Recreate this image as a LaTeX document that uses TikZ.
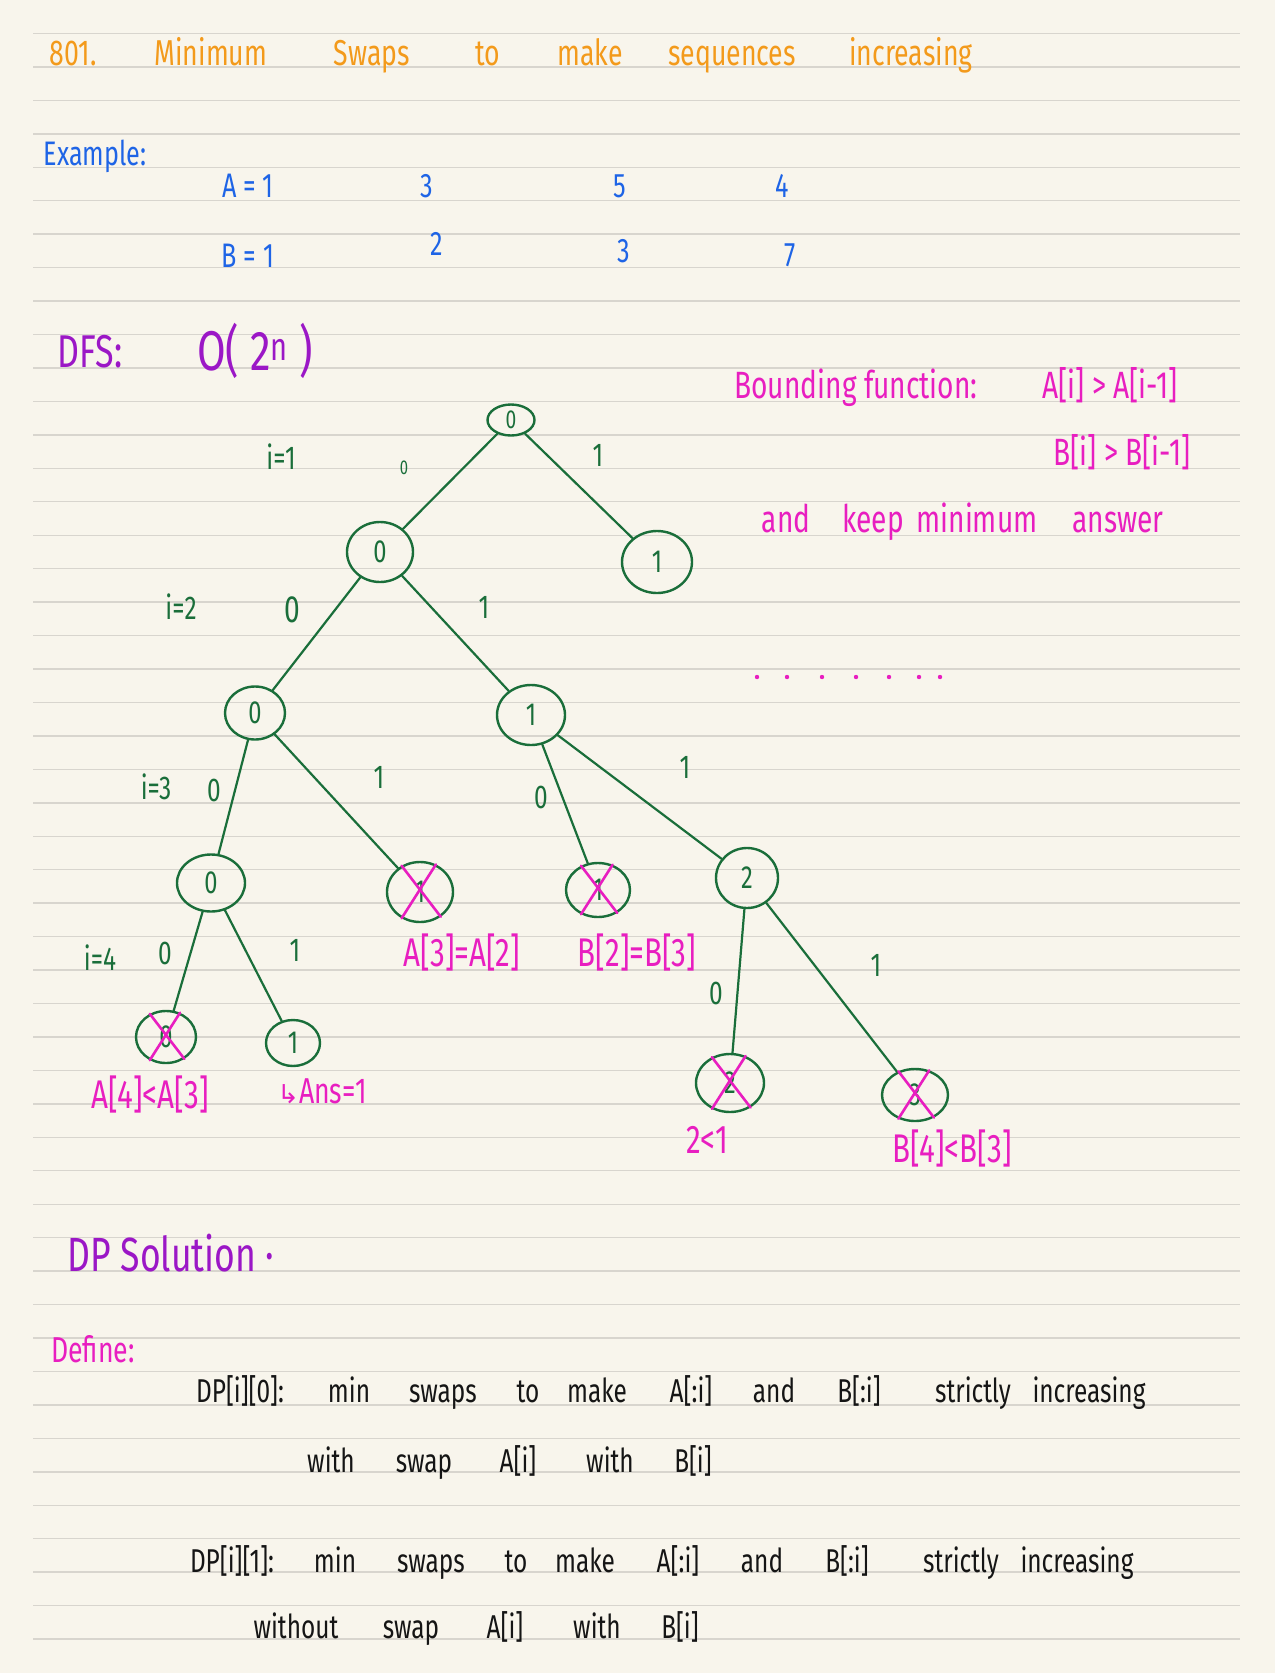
\documentclass[tikz,border=0pt]{standalone}
\usepackage{fontspec}
\setmainfont{Fira Sans}[FakeStretch=0.74]
\newfontfamily\symfont{DejaVu Sans}
\usetikzlibrary{shapes.geometric}

\definecolor{paper}{HTML}{F8F5EC}
\definecolor{ruling}{HTML}{D8D5CE}
\definecolor{titleorange}{HTML}{F39A1B}
\definecolor{exblue}{HTML}{1E64E6}
\definecolor{dfspurple}{HTML}{9B17C6}
\definecolor{treegreen}{HTML}{1A6E3A}
\definecolor{notepink}{HTML}{E81EC0}
\definecolor{ink}{HTML}{151515}

\newcommand{\fs}[1]{\fontsize{#1}{#1}\selectfont}

\tikzset{
  ruled/.style={draw=ruling, line width=1.4pt},
  titleword/.style={text=titleorange, anchor=base, font=\fs{36}},
  exword/.style={text=exblue, anchor=base, font=\fs{34}},
  dfsword/.style={text=dfspurple, anchor=base},
  tnode/.style={ellipse, draw=treegreen, line width=2.4pt, text=treegreen,
    inner sep=0pt, minimum width=64pt, minimum height=56pt, font=\fs{32}},
  branch/.style={draw=treegreen, line width=2.2pt, line cap=round},
  elabel/.style={text=treegreen, font=\fs{33}},
  cutmark/.style={draw=notepink, line width=2.6pt, line cap=round},
  note/.style={text=notepink, anchor=base, font=\fs{40}},
  defword/.style={text=ink, anchor=base, font=\fs{33}}
}

\begin{document}
\begin{tikzpicture}[x=1pt, y=-1pt]
\useasboundingbox (0,0) rectangle (1275,1673);
\fill[paper] (0,0) rectangle (1275,1673);

% notebook ruling
\foreach \k in {1,...,49}
  \draw[ruled] (33,{33.45*\k}) -- (1240,{33.45*\k});

% title
\foreach \w/\x [count=\i] in {801./73, Minimum/211, Swaps/372, to/488, make/590, sequences/732, increasing/911}
  \node[titleword] (title\i) at (\x,65) {\w};

% example
\node[exword] (example) at (95,165) {Example:};
\foreach \w/\x/\y [count=\i] in {A = 1/248/197, 3/427/197, 5/620/197, 4/782/197,
                                B = 1/248/267, 2/437/255, 3/624/262, 7/790/266}
  \node[exword] (ex\i) at (\x,\y) {\w};

% DFS
\node[dfsword, font=\fs{46}] (dfs) at (90,367) {DFS:};
\node[dfsword, font=\fs{56}] (bigo) at (255,370) {O( 2\textsuperscript{n} )};

% bounding function
\node[note, font=\fs{38}] (bound) at (856,398) {Bounding function:};
\node[note, font=\fs{38}] (bounda) at (1110,398) {A[i] > A[i-1]};
\node[note, font=\fs{38}] (boundb) at (1122,465) {B[i] > B[i-1]};
\foreach \w/\x [count=\i] in {and/786, keep/873, minimum/977, answer/1118}
  \node[note, font=\fs{38}] (keep\i) at (\x,532) {\w};
\foreach \x in {757,787,822,856,889,919,940}
  \fill[notepink] (\x,677) circle (2.2pt);

% tree
\node[tnode, minimum width=47pt, minimum height=31pt, font=\fs{26}] (r) at (511,420) {0};
\node[tnode, minimum width=66pt, minimum height=60pt] (a) at (380,552) {0};
\node[tnode, minimum width=70pt, minimum height=62pt] (b) at (657,562) {1};
\node[tnode, minimum width=60pt, minimum height=53pt] (c) at (255,713) {0};
\node[tnode, minimum width=68pt, minimum height=60pt] (d) at (531,715) {1};
\node[tnode, minimum width=68pt, minimum height=57pt] (e) at (211,883) {0};
\node[tnode, minimum width=66pt, minimum height=60pt] (f) at (420,892) {1};
\node[tnode, minimum width=64pt, minimum height=54pt] (g) at (598,890) {1};
\node[tnode, minimum width=62pt, minimum height=60pt] (h) at (747,878) {2};
\node[tnode, minimum width=60pt, minimum height=52pt] (k) at (166,1037) {0};
\node[tnode, minimum width=54pt, minimum height=46pt] (m) at (293,1043) {1};
\node[tnode, minimum width=68pt, minimum height=58pt] (n) at (730,1083) {2};
\node[tnode, minimum width=66pt, minimum height=52pt] (p) at (915,1095) {3};

\draw[branch] (r) -- (a);
\draw[branch] (r) -- (b);
\draw[branch] (a) -- (c);
\draw[branch] (a) -- (d);
\draw[branch] (c) -- (e);
\draw[branch] (c) -- (f);
\draw[branch] (d) -- (g);
\draw[branch] (d) -- (h);
\draw[branch] (e) -- (k);
\draw[branch] (e) -- (m);
\draw[branch] (h) -- (n);
\draw[branch] (h) -- (p);

% pruned branches
\foreach \t in {f,g,k,n,p}
  \draw[cutmark] (\t.125) -- (\t.-50) (\t.60) -- (\t.-125);

% levels and choices
\node[elabel] (lv1) at (281,457) {i=1};
\node[elabel] (lv2) at (181,607) {i=2};
\node[elabel] (lv3) at (156,787) {i=3};
\node[elabel] (lv4) at (100,958) {i=4};
\node[elabel, font=\fs{20}] (ra) at (404,468) {0};
\node[elabel] (rb) at (598,455) {1};
\node[elabel, font=\fs{38}] (ac) at (292,610) {0};
\node[elabel] (ad) at (484,607) {1};
\node[elabel] (ce) at (214,790) {0};
\node[elabel] (cf) at (379,777) {1};
\node[elabel] (dg) at (541,797) {0};
\node[elabel] (dh) at (685,767) {1};
\node[elabel] (ek) at (165,953) {0};
\node[elabel] (em) at (295,950) {1};
\node[elabel] (hn) at (716,993) {0};
\node[elabel] (hp) at (876,965) {1};

% reasons
\node[note] (whyf) at (462,966) {A[3]=A[2]};
\node[note] (whyg) at (637,966) {B[2]=B[3]};
\node[note] (whyk) at (150,1108) {A[4]<A[3]};
\node[note, font=\fs{36}] (ans) at (322,1103) {{\symfont\fs{26}↳}Ans=1};
\node[note] (whyn) at (707,1153) {2<1};
\node[note] (whyp) at (952,1162) {B[4]<B[3]};

% DP solution
\node[dfsword, font=\fs{48}] (dp) at (171,1271) {DP Solution ·};
\node[note, font=\fs{36}] (define) at (93,1362) {Define:};
\foreach \w/\x [count=\i] in {{DP[i][0]:}/240, min/349, swaps/443, to/528, make/597, {A[:i]}/691,
    and/774, {B[:i]}/859, strictly/973, increasing/1089}
  \node[defword] (dpa\i) at (\x,1402) {\w};
\foreach \w/\x [count=\i] in {with/331, swap/424, {A[i]}/518, with/610, {B[i]}/693}
  \node[defword] (dpb\i) at (\x,1472) {\w};
\foreach \w/\x [count=\i] in {{DP[i][1]:}/232, min/335, swaps/431, to/516, make/585, {A[:i]}/678,
    and/762, {B[:i]}/847, strictly/961, increasing/1077}
  \node[defword] (dpc\i) at (\x,1572) {\w};
\foreach \w/\x [count=\i] in {without/296, swap/411, {A[i]}/505, with/597, {B[i]}/680}
  \node[defword] (dpd\i) at (\x,1638) {\w};

\end{tikzpicture}
\end{document}
